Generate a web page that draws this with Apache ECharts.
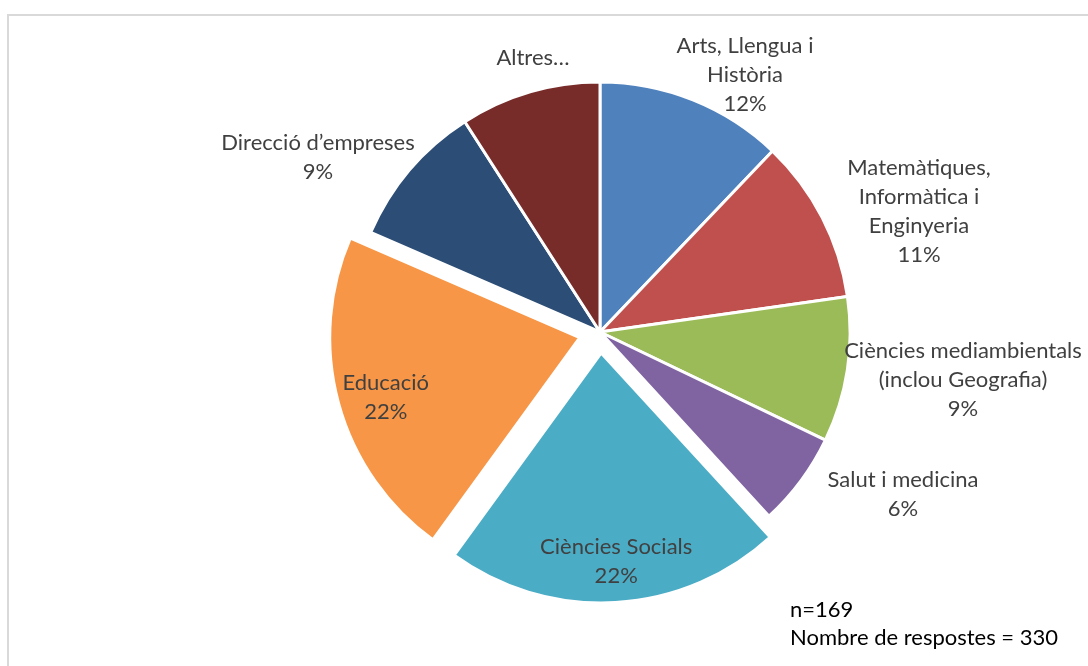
<!DOCTYPE html>
<html>
<head>
<meta charset="utf-8">
<title>Àmbits de coneixement</title>
<script src="https://cdn.jsdelivr.net/npm/echarts@6/dist/echarts.min.js"></script>
<style>
  html, body { margin: 0; padding: 0; background: #ffffff; }
  #chart { width: 1088px; height: 666px; }
</style>
</head>
<body>
<div id="chart"></div>
<script>
// Àmbits (slice names, with the wrapping used in their labels)
const categories = [
  'Arts, Llengua i\nHistòria',
  'Matemàtiques,\nInformàtica i\nEnginyeria',
  'Ciències mediambientals\n(inclou Geografia)',
  'Salut i medicina',
  'Ciències Socials',
  'Educació',
  'Direcció d\u2019empreses',
  'Altres\u2026'
];
// Number of answers per àmbit (330 answers in total)
const responses = [40, 35, 31, 20, 72, 71, 31, 30];
// Slices pulled out of the pie
const explodedSlices = ['Ciències Socials', 'Educació'];
// Slices whose label is drawn without a percentage
const nameOnlySlices = ['Altres\u2026'];
// Footnote lines
const noteLines = ['n=169', 'Nombre de respostes = 330'];

// ---- presentation ----
const palette = ['#4F81BD', '#C0504D', '#9BBB59', '#8064A2', '#4BACC6', '#F79646', '#2C4D75', '#772C2A'];
const CX = 600, CY = 332, R = 250;
// label centres, as offsets from the pie centre
// (for pulled-out slices: from the slice's own tip, since the label moves with it)
const labelOffsets = [
  [145, -257], [319, -121], [363, 48], [303, 162],
  [15, 208], [-194, 60], [-282, -175], [-67, -274]
];
const FONT = 'Lato, "Open Sans", sans-serif';

const chart = echarts.init(document.getElementById('chart'), null, { renderer: 'canvas' });

const data = categories.map((name, i) => ({
  name: name,
  value: responses[i],
  selected: explodedSlices.indexOf(name) >= 0,
  itemStyle: { color: palette[i] }
}));

chart.setOption({
  animation: false,
  backgroundColor: '#ffffff',
  graphic: [
    {
      type: 'rect',
      shape: { x: 8, y: 15, width: 1200, height: 800 },
      style: { fill: 'none', stroke: '#d9d9d9', lineWidth: 2 },
      silent: true
    },
    {
      type: 'text',
      left: 790,
      top: 596,
      style: {
        text: noteLines.join('\n'),
        font: '22px ' + FONT,
        fill: '#000000',
        lineHeight: 28
      }
    }
  ],
  series: [{
    type: 'pie',
    center: [CX, CY],
    radius: [0, R],
    startAngle: 90,
    clockwise: true,
    selectedMode: 'multiple',
    selectedOffset: 21,
    avoidLabelOverlap: false,
    itemStyle: { borderColor: '#ffffff', borderWidth: 3 },
    emphasis: { disabled: true },
    select: { itemStyle: { borderColor: '#ffffff', borderWidth: 3 } },
    label: {
      show: true,
      position: 'inside',
      color: '#404040',
      fontFamily: FONT,
      fontSize: 22,
      lineHeight: 29,
      align: 'center',
      formatter: function (p) {
        if (nameOnlySlices.indexOf(p.name) >= 0) return p.name;
        return p.name + '\n' + Math.round(p.percent) + '%';
      }
    },
    labelLine: { show: false },
    // move each label so that its centre sits at its chosen spot
    labelLayout: function (params) {
      const off = labelOffsets[params.dataIndex];
      const r = params.labelRect;
      return {
        dx: CX + off[0] - (r.x + r.width / 2),
        dy: CY + off[1] - (r.y + r.height / 2)
      };
    },
    data: data
  }]
});
</script>
</body>
</html>
